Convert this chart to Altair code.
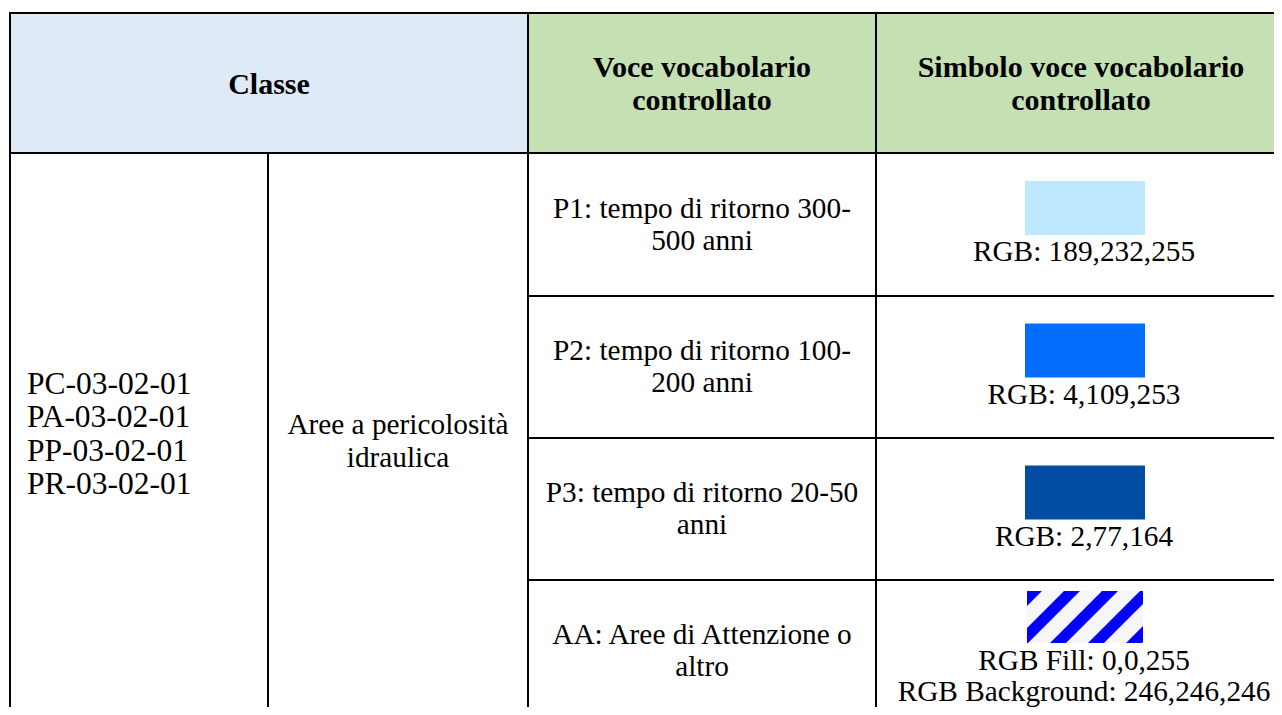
import altair as alt
import pandas as pd

# ---------------- content ----------------
header_classe = ["Classe"]
header_voce = ["Voce vocabolario", "controllato"]
header_simbolo = ["Simbolo voce vocabolario", "controllato"]
class_codes = ["PC-03-02-01", "PA-03-02-01", "PP-03-02-01", "PR-03-02-01"]
class_desc = ["Aree a pericolosità", "idraulica"]
voce_lines = [
    ["P1: tempo di ritorno 300-", "500 anni"],
    ["P2: tempo di ritorno 100-", "200 anni"],
    ["P3: tempo di ritorno 20-50", "anni"],
    ["AA: Aree di Attenzione o", "altro"],
]
symbol_labels = [
    ["RGB: 189,232,255"],
    ["RGB: 4,109,253"],
    ["RGB: 2,77,164"],
    ["RGB Fill: 0,0,255", "RGB Background: 246,246,246"],
]
symbol_rgb = [(189, 232, 255), (4, 109, 253), (2, 77, 164), None]
hatch_fill_rgb = (0, 0, 255)
hatch_bg_rgb = (246, 246, 246)

# ---------------- layout (page pixels) ----------------
COLS = [10, 268, 528, 876, 1288]
ROWS = [13, 153, 296, 438, 580, 722]
LINE = 33
SW_W, SW_H = 120, 54
SW_CX = 1085
BLUE_HDR = "#DEEAF6"
GREEN_HDR = "#C5E0B3"
W, H = 1266, 699
xs = alt.Scale(domain=[8, 8 + W], nice=False, zero=False)
ys = alt.Scale(domain=[8, 8 + H], nice=False, zero=False, reverse=True)


def rgb(c):
    return "#%02x%02x%02x" % c


# grid rules
rules = []
top, hb = ROWS[0], ROWS[1]
rules.append(dict(x=COLS[0], x2=COLS[-1], y=top, y2=top))
rules.append(dict(x=COLS[0], x2=COLS[-1], y=hb, y2=hb))
for r in ROWS[2:5]:
    rules.append(dict(x=COLS[2], x2=COLS[-1], y=r, y2=r))
for c in [COLS[0], COLS[2], COLS[3], COLS[4]]:
    rules.append(dict(x=c, x2=c, y=top, y2=ROWS[-1]))
rules.append(dict(x=COLS[1], x2=COLS[1], y=hb, y2=ROWS[-1]))
rules_df = pd.DataFrame(rules)

# header backgrounds
hdr_df = pd.DataFrame([
    dict(x=COLS[0], x2=COLS[2], y=top, y2=hb, c=BLUE_HDR),
    dict(x=COLS[2], x2=COLS[-1], y=top, y2=hb, c=GREEN_HDR),
])

# swatches + labels
sw_rows, lab_rows, hatch_rows = [], [], []
for i, labels in enumerate(symbol_labels):
    mid = (ROWS[i + 1] + ROWS[i + 2]) / 2
    n = len(labels)
    st = mid - 27 - 16.5 * n
    x0, x1 = SW_CX - SW_W / 2, SW_CX + SW_W / 2
    if symbol_rgb[i] is not None:
        sw_rows.append(dict(x=x0, x2=x1, y=st, y2=st + SW_H, c=rgb(symbol_rgb[i])))
        lab_start, lab_step = st + SW_H + 17, LINE
    else:
        hx0, hx1, hy0, hy1 = x0 + 2, x1 - 2, st, st + SW_H - 2
        sw_rows.append(dict(x=hx0, x2=hx1, y=hy0, y2=hy1, c=rgb(hatch_bg_rgb)))
        period, w = 38, 16
        base = hx0 + hy0 - 1
        for k in range(-4, 8):
            c = base + k * period
            xmin = max(hx0, c - hy1)
            xmax = min(hx1, c + w - hy0)
            if xmin >= xmax:
                continue
            cand = {xmin, xmax}
            for v in (c - hy1, c - hy0, c + w - hy1, c + w - hy0):
                if xmin < v < xmax:
                    cand.add(v)
            for xv in sorted(cand):
                ylo = min(max(hy0, c - xv), hy1)
                yhi = max(min(hy1, c + w - xv), hy0)
                hatch_rows.append(dict(x=xv, y=ylo, y2=yhi, k=k))
        lab_start, lab_step = hy1 + 18, 31
    for j, t in enumerate(labels):
        lab_rows.append(dict(x=SW_CX - 1, y=lab_start + j * lab_step, t=t))
sw_df = pd.DataFrame(sw_rows)
hatch_df = pd.DataFrame(hatch_rows)

# header texts
hdr_mid = (top + hb) / 2
hdr_txt = [dict(x=(COLS[0] + COLS[2]) / 2, y=hdr_mid + 2, t=header_classe[0])]
for j, t in enumerate(header_voce):
    hdr_txt.append(dict(x=(COLS[2] + COLS[3]) / 2, y=hdr_mid + 1.5 + (j - 0.5) * LINE, t=t))
for j, t in enumerate(header_simbolo):
    hdr_txt.append(dict(x=(COLS[3] + COLS[4]) / 2 - 1, y=hdr_mid + 1.5 + (j - 0.5) * LINE, t=t))
hdr_txt_df = pd.DataFrame(hdr_txt)

# body centred texts
body_mid = (hb + ROWS[-1]) / 2
center_txt = []
for j, t in enumerate(class_desc):
    center_txt.append(dict(x=(COLS[1] + COLS[2]) / 2, y=body_mid + 4 + (j - 0.5) * LINE, t=t))
for i, lines in enumerate(voce_lines):
    mid = (ROWS[i + 1] + ROWS[i + 2]) / 2
    for j, t in enumerate(lines):
        center_txt.append(dict(x=(COLS[2] + COLS[3]) / 2, y=mid + (j - 0.5) * 32, t=t))
center_txt += lab_rows
center_df = pd.DataFrame(center_txt)

codes_df = pd.DataFrame([
    dict(x=COLS[0] + 17, y=body_mid - 2.5 + (j - 1.5) * 33.4, t=t) for j, t in enumerate(class_codes)
])

enc_rect = dict(
    x=alt.X("x:Q", scale=xs, axis=None), x2="x2:Q",
    y=alt.Y("y:Q", scale=ys, axis=None), y2="y2:Q",
    color=alt.Color("c:N", scale=None),
)

hdr_layer = alt.Chart(hdr_df).mark_rect(clip=True).encode(**enc_rect)
sw_layer = alt.Chart(sw_df).mark_rect(clip=True).encode(**enc_rect)
hatch_layer = alt.Chart(hatch_df).mark_area(
    orient="vertical", color=rgb(hatch_fill_rgb), interpolate="linear", clip=True
).encode(
    x=alt.X("x:Q", scale=xs, axis=None),
    y=alt.Y("y:Q", scale=ys, axis=None), y2="y2:Q",
    detail="k:N",
)
rule_layer = alt.Chart(rules_df).mark_rule(
    color="black", strokeWidth=2, strokeCap="square", clip=True
).encode(
    x=alt.X("x:Q", scale=xs, axis=None), x2="x2:Q",
    y=alt.Y("y:Q", scale=ys, axis=None), y2="y2:Q",
)

def text_layer(df, **kw):
    return alt.Chart(df).mark_text(font="Liberation Serif", color="black", baseline="middle", **kw).encode(
        x=alt.X("x:Q", scale=xs, axis=None),
        y=alt.Y("y:Q", scale=ys, axis=None),
        text="t:N",
    )

hdr_text_layer = text_layer(hdr_txt_df, fontSize=30, fontWeight="bold", align="center")
center_layer = text_layer(center_df, fontSize=29.3, align="center")
codes_layer = text_layer(codes_df, fontSize=31.5, align="left")

chart = alt.layer(
    hdr_layer, sw_layer, hatch_layer, rule_layer, hdr_text_layer, center_layer, codes_layer
).properties(
    width=W, height=H, padding=0, autosize=alt.AutoSizeParams(type="none"), background="white"
).configure_view(strokeWidth=0)

chart.save("out.html", embed_options={"renderer": "svg", "actions": False})
